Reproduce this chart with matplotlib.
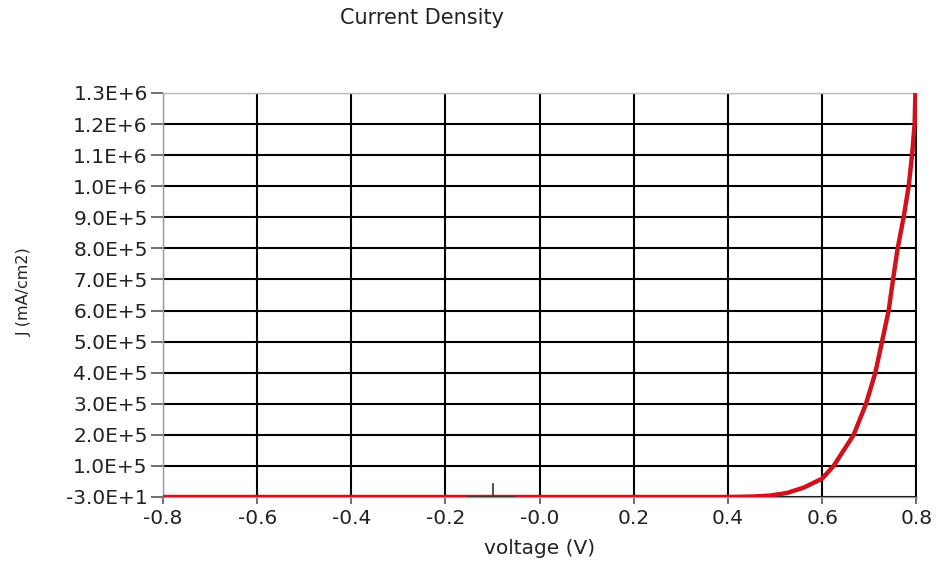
import matplotlib
matplotlib.use("Agg")
import matplotlib.pyplot as plt

# voltage (V) and current density (mA/cm2)
voltage = [-0.8, 0.40, 0.4544, 0.4898, 0.5253, 0.5607, 0.60, 0.6244, 0.667,
           0.6932, 0.713, 0.7272, 0.7413, 0.7506, 0.7604, 0.7731, 0.7838,
           0.791, 0.7965, 0.798]
current = [-30, -30, 1.5e3, 4.5e3, 1.3e4, 3.0e4, 5.9e4, 1.0e5, 2.0e5,
           3.0e5, 4.0e5, 5.0e5, 6.0e5, 7.0e5, 8.0e5, 9.0e5, 1.0e6,
           1.1e6, 1.2e6, 1.3e6]

# little cursor mark near -0.1 V
cursor_v = [-0.152, -0.052]
cursor_j = [0, 0]
cursor_tick_v = [-0.099, -0.099]
cursor_tick_j = [6e3, 4.2e4]

xticks = [-0.8, -0.6, -0.4, -0.2, 0.0, 0.2, 0.4, 0.6, 0.8]
xlabels = ["-0.8", "-0.6", "-0.4", "-0.2", "-0.0", "0.2", "0.4", "0.6", "0.8"]
yticks = [-30] + [i * 1e5 for i in range(1, 14)]
ylabels = ["-3.0E+1", "1.0E+5", "2.0E+5", "3.0E+5", "4.0E+5", "5.0E+5",
           "6.0E+5", "7.0E+5", "8.0E+5", "9.0E+5", "1.0E+6", "1.1E+6",
           "1.2E+6", "1.3E+6"]

plt.rcParams['font.family'] = ['DejaVu Sans']

fig = plt.figure(figsize=(9.42, 5.62), dpi=100)
ax = fig.add_axes([163/942, 65/562, 754/942, 404/562])

ax.set_xlim(-0.8, 0.8015)
ax.set_ylim(-30, 1.3e6)

ax.set_xticks(xticks)
ax.set_xticklabels(xlabels)
ax.set_yticks(yticks)
ax.set_yticklabels(ylabels)

ax.grid(True, color="black", linewidth=1.5)
ax.set_axisbelow(True)

ax.plot(voltage, current, color="#d0121c", linewidth=3.2, solid_capstyle="butt",
        solid_joinstyle="round", zorder=3)
ax.plot(cursor_v, cursor_j, color="#333333", linewidth=1.2, zorder=4)
ax.plot(cursor_tick_v, cursor_tick_j, color="#333333", linewidth=1.2, zorder=4)

ax.spines["right"].set_visible(False)
ax.spines["left"].set_color("#999999")
ax.spines["top"].set_color("#bbbbbb")
ax.spines["bottom"].set_color("#999999")
for s in ["left", "top", "bottom"]:
    ax.spines[s].set_linewidth(1.0)

ax.tick_params(axis="y", direction="out", length=9, width=1.2, color="#555555",
               labelsize=14.5, labelcolor="#222222", pad=2)
ax.tick_params(axis="x", direction="out", length=5, width=1.2, color="#555555",
               labelsize=14.5, labelcolor="#222222", pad=4)

fig.text(422/942, 1 - 18/562, "Current Density", ha="center", va="center",
         fontsize=15, color="#222222")
fig.text(540/942, 1 - 548/562, "voltage (V)", ha="center", va="center",
         fontsize=14.5, color="#222222")
fig.text(24/942, 1 - 292/562, "J (mA/cm2)", ha="center", va="center",
         rotation=90, fontsize=11.5, color="#222222")

fig.savefig("out.png", dpi=100)
